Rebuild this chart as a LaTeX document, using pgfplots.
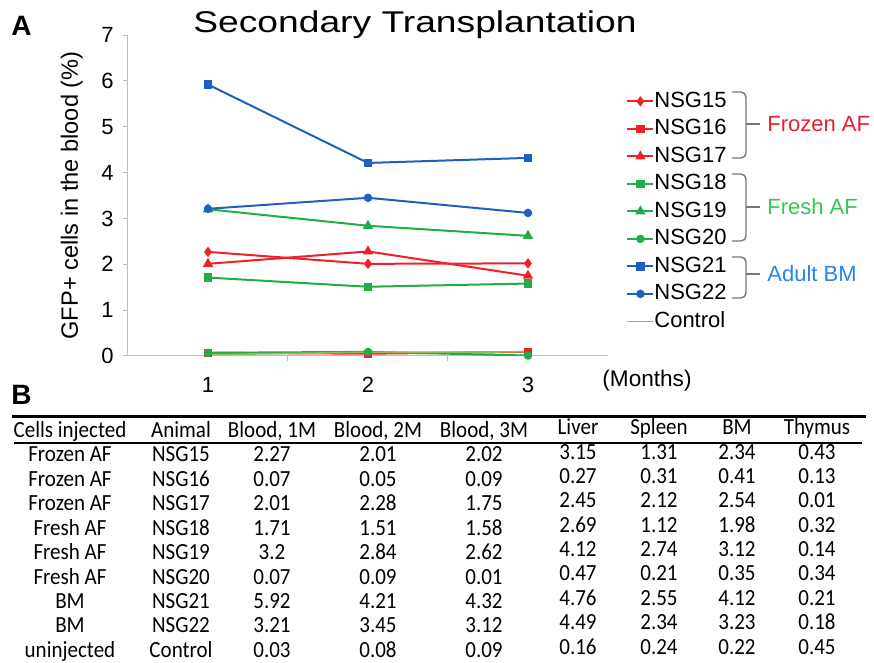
\documentclass[border=0pt]{standalone}
\usepackage{pgfplots}
\pgfplotsset{compat=1.18}
\usepackage{fontspec}
\setmainfont{Liberation Sans}
\newfontfamily\calfont{Carlito}
\definecolor{lred}{RGB}{238,32,40}
\definecolor{lgreen}{RGB}{34,172,72}
\definecolor{lblue}{RGB}{30,96,190}
\definecolor{lolive}{RGB}{150,185,80}
\definecolor{tred}{RGB}{232,30,48}
\definecolor{tgreen}{RGB}{52,200,82}
\definecolor{tblue}{RGB}{40,132,232}
\definecolor{axgray}{RGB}{190,190,190}
\definecolor{brgray}{RGB}{120,120,120}
\begin{document}
\begin{tikzpicture}
\path[use as bounding box] (0pt,0pt) rectangle (437pt,-331.5pt);
\begin{axis}[
  at={(64pt,-178pt)}, anchor=south west,
  scale only axis, width=240pt, height=160.5pt,
  xmin=0.5, xmax=3.5, ymin=0, ymax=7,
  axis x line*=bottom, axis y line*=left,
  axis line style={axgray, line width=0.5pt, -},
  xtick={1,2,3}, ytick={0,1,...,7},
  tick align=outside, major tick length=2.5pt,
  every tick/.style={axgray, line width=0.5pt},
  major x tick style={draw=none},
  extra x ticks={1.5,2.5}, extra x tick labels={},
  extra x tick style={major x tick style={draw=axgray, line width=0.5pt}},
  /pgf/number format/assume math mode=true,
  tick label style={font=\fontsize{11}{12}\selectfont},
  yticklabel style={anchor=east, inner sep=0pt, xshift=-4.5pt},
  xticklabel style={anchor=north, inner sep=0pt, yshift=-8pt},
  ylabel={GFP+ cells in the blood (\%)},
  ylabel style={at={(axis description cs:-0.117,0.5)}, anchor=center, font=\fontsize{11.8}{13}\selectfont},
  every axis plot/.append style={line width=1pt},
  legend cell align=left,
  legend style={at={(1.025,0.838)}, anchor=north west, draw=none, fill=none,
    font=\fontsize{11}{12}\selectfont, row sep=3.75pt,
    nodes={inner sep=0pt, text height=8pt, text depth=2pt},
    /tikz/every even column/.append style={column sep=1.5pt}},
  legend image code/.code={\draw[mark repeat=2, mark phase=2, #1] plot coordinates {(0pt,0pt) (6.5pt,0pt) (13pt,0pt)};},
]
\addplot[color=lred, mark=diamond*, mark size=1.8pt] coordinates {(1,2.27) (2,2.01) (3,2.02)};
\addlegendentry{NSG15}
\addplot[color=lred, mark=square*, mark size=1.6pt] coordinates {(1,0.07) (2,0.05) (3,0.09)};
\addlegendentry{NSG16}
\addplot[color=lred, mark=triangle*, mark size=2pt] coordinates {(1,2.01) (2,2.28) (3,1.75)};
\addlegendentry{NSG17}
\addplot[color=lgreen, mark=square*, mark size=1.6pt] coordinates {(1,1.71) (2,1.51) (3,1.58)};
\addlegendentry{NSG18}
\addplot[color=lgreen, mark=triangle*, mark size=2pt] coordinates {(1,3.2) (2,2.84) (3,2.62)};
\addlegendentry{NSG19}
\addplot[color=lgreen, mark=*, mark size=1.6pt] coordinates {(1,0.07) (2,0.09) (3,0.01)};
\addlegendentry{NSG20}
\addplot[color=lblue, mark=square*, mark size=1.6pt] coordinates {(1,5.92) (2,4.21) (3,4.32)};
\addlegendentry{NSG21}
\addplot[color=lblue, mark=*, mark size=1.6pt] coordinates {(1,3.21) (2,3.45) (3,3.12)};
\addlegendentry{NSG22}
\addplot[color=lolive, no marks, line width=0.8pt] coordinates {(1,0.03) (2,0.08) (3,0.09)};
\addlegendentry{Control}
\end{axis}
\begin{scope}[x=0.5pt,y=-0.5pt]
% panel labels and title
\node[anchor=base west, inner sep=0pt, font=\bfseries\fontsize{14}{16}\selectfont] at (11,36) {A};
\node[anchor=base west, inner sep=0pt, font=\bfseries\fontsize{14}{16}\selectfont] at (11,405) {B};
\node[anchor=base, inner sep=0pt, font=\fontsize{15}{17}\selectfont, xscale=1.24] at (415,33) {Secondary Transplantation};
\node[anchor=base west, inner sep=0pt, font=\fontsize{11.3}{12}\selectfont] at (602,387) {(Months)};
% group brackets
\begin{scope}[draw=brgray, line width=0.7pt, rounded corners=2.5pt]
\draw (732,92) -- (746,92) -- (746,158) -- (732,158);
\draw (746,124) -- (760,124);
\draw (732,174) -- (746,174) -- (746,241) -- (732,241);
\draw (746,207) -- (760,207);
\draw (732,257) -- (746,257) -- (746,298) -- (732,298);
\draw (746,274) -- (760,274);
\end{scope}
\node[anchor=base west, inner sep=0pt, text=tred, font=\fontsize{11}{12}\selectfont] at (767,132) {Frozen AF};
\node[anchor=base west, inner sep=0pt, text=tgreen, font=\fontsize{11}{12}\selectfont] at (767,214.5) {Fresh AF};
\node[anchor=base west, inner sep=0pt, text=tblue, font=\fontsize{11}{12}\selectfont] at (767,281.5) {Adult BM};
% table
\draw[line width=1.8pt] (12,416.5) -- (866,416.5);
\draw[line width=0.8pt] (14,443) -- (862,443);
\begin{scope}[every node/.style={anchor=base, inner sep=0pt, yscale=1.1, font=\calfont\fontsize{10.5}{12}\selectfont}]
\node at (70,438) {Cells injected};
\node at (181,438) {Animal};
\node at (272,438) {Blood, 1M};
\node at (378,438) {Blood, 2M};
\node at (484,438) {Blood, 3M};
\node at (578,435) {Liver};
\node at (659,435) {Spleen};
\node at (737,435) {BM};
\node at (817,435) {Thymus};
\foreach \a/\b/\c/\d/\e/\f/\g/\h/\i [count=\k from 0] in {
 Frozen AF/NSG15/2.27/2.01/2.02/3.15/1.31/2.34/0.43,
 Frozen AF/NSG16/0.07/0.05/0.09/0.27/0.31/0.41/0.13,
 Frozen AF/NSG17/2.01/2.28/1.75/2.45/2.12/2.54/0.01,
 Fresh AF/NSG18/1.71/1.51/1.58/2.69/1.12/1.98/0.32,
 Fresh AF/NSG19/3.2/2.84/2.62/4.12/2.74/3.12/0.14,
 Fresh AF/NSG20/0.07/0.09/0.01/0.47/0.21/0.35/0.34,
 BM/NSG21/5.92/4.21/4.32/4.76/2.55/4.12/0.21,
 BM/NSG22/3.21/3.45/3.12/4.49/2.34/3.23/0.18,
 uninjected/Control/0.03/0.08/0.09/0.16/0.24/0.22/0.45}{
 \pgfmathsetmacro\yy{462+24.4*\k}
 \pgfmathsetmacro\yz{\yy-3}
 \node at (70,\yy) {\a};
 \node at (181,\yy) {\b};
 \node at (272,\yy) {\c};
 \node at (378,\yy) {\d};
 \node at (484,\yy) {\e};
 \node at (578,\yz) {\f};
 \node at (659,\yz) {\g};
 \node at (737,\yz) {\h};
 \node at (817,\yz) {\i};
}
\end{scope}
\end{scope}
\end{tikzpicture}
\end{document}
